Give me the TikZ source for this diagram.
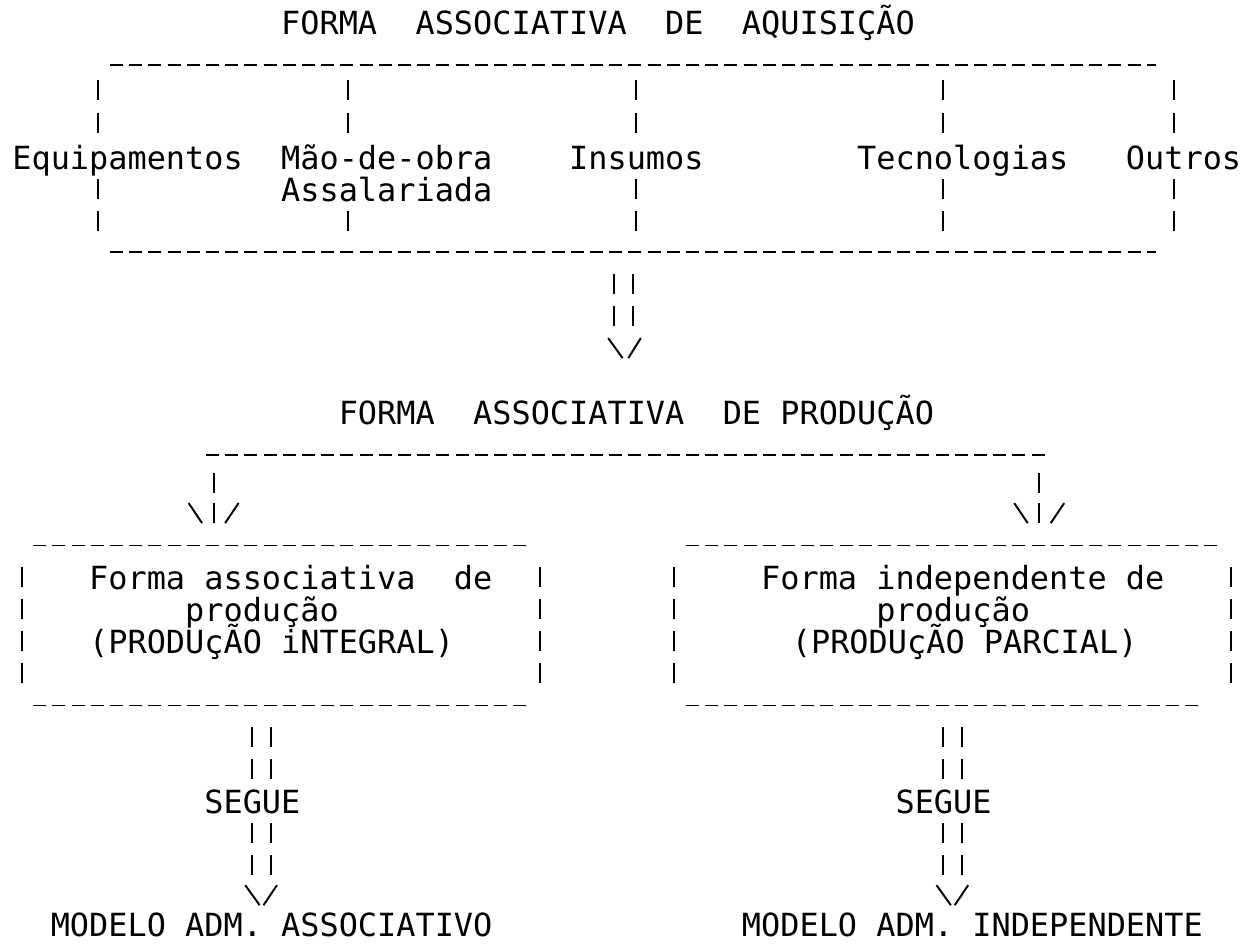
\documentclass[tikz,border=0pt]{standalone}
\usepackage{fontspec}
\newfontfamily\dotmatrix{DejaVu Sans Mono}
\usepackage{tikz}

\begin{document}
\begin{tikzpicture}[
	x=0.384cm, y=-0.02cm,
	word/.style = {
		anchor=base west, inner sep=0pt,
		font=\dotmatrix\fontsize{18.15}{20}\selectfont
	},
	rule/.style = {
		line width=0.7pt,
		dash pattern=on 0.26cm off 0.124cm
	},
	bar/.style = {
		line width=1.1pt
	}
]
	\useasboundingbox (-0.625, 0) rectangle (64.53, 944);
	% Acquisition
	\node[word] (aquis) at (14, 34) {FORMA\ \ ASSOCIATIVA\ \ DE\ \ AQUISIÇÃO};
	\draw[rule] (5.1, 65) -- (59.6, 65);
	\foreach \c in {4,17,32,48,60} {
		\foreach \r in {90,123,221} {
			\draw[bar] (\c+0.5, \r-10) -- ++(0, 20);
		}
	}
	\foreach \c in {4,32,48,60} {
		\draw[bar] (\c+0.5, 179) -- ++(0, 20);
	}
	\node[word] (equip) at (0, 169) {Equipamentos};
	\node[word] (maoobra) at (14, 169) {Mão-de-obra};
	\node[word] (assal) at (14, 201) {Assalariada};
	\node[word] (insumos) at (29, 169) {Insumos};
	\node[word] (tecno) at (44, 169) {Tecnologias};
	\node[word] (outros) at (58, 169) {Outros};
	\draw[rule] (5.1, 252) -- (59.6, 252);
	% Down to production
	\foreach \r in {284,316} {
		\draw[bar] (31.35, \r-10) -- ++(0, 20);
		\draw[bar] (32.35, \r-10) -- ++(0, 20);
	}
	\draw[bar] (31.05, 338) -- (31.8, 358);
	\draw[bar] (32.1, 358) -- (32.75, 338);
	% Production
	\node[word] (prod) at (17, 424) {FORMA\ \ ASSOCIATIVA\ \ DE PRODUÇÃO};
	\draw[rule] (10.1, 455) -- (54, 455);
	\foreach \s in {0,43} {
		\draw[bar] (10.5+\s, 473) -- ++(0, 20);
		\draw[bar] (9.2+\s, 503) -- (9.9+\s, 523);
		\draw[bar] (10.5+\s, 503) -- ++(0, 20);
		\draw[bar] (11.1+\s, 523) -- (11.8+\s, 503);
	}
	% Boxes
	\draw[rule] (1.1, 545) -- (26.9, 545);
	\draw[rule] (35.1, 545) -- (62.9, 545);
	\foreach \c in {0,27,34,63} {
		\foreach \r in {577,609,641,673} {
			\draw[bar] (\c+0.5, \r-10) -- ++(0, 20);
		}
	}
	\node[word] (integ1) at (4, 589) {Forma associativa\ \ de};
	\node[word] (integ2) at (9, 621) {produção};
	\node[word] (integ3) at (4, 653) {(PRODUçÃO iNTEGRAL)};
	\node[word] (parc1) at (39, 589) {Forma independente de};
	\node[word] (parc2) at (45, 621) {produção};
	\node[word] (parc3) at (40.6, 653) {(PRODUçÃO PARCIAL)};
	\draw[rule] (1.1, 705) -- (26.9, 705);
	\draw[rule] (35.1, 705) -- (62, 705);
	% Follows
	\foreach \s in {0,36} {
		\foreach \r in {737,769,833,865} {
			\draw[bar] (12.5+\s, \r-10) -- ++(0, 20);
			\draw[bar] (13.5+\s, \r-10) -- ++(0, 20);
		}
		\draw[bar] (12.15+\s, 885) -- (12.9+\s, 905);
		\draw[bar] (13.1+\s, 905) -- (13.8+\s, 885);
	}
	\node[word] (segue1) at (10, 813) {SEGUE};
	\node[word] (segue2) at (46, 813) {SEGUE};
	\node[word] (assoc) at (2, 936) {MODELO ADM. ASSOCIATIVO};
	\node[word] (indep) at (38, 936) {MODELO ADM. INDEPENDENTE};
\end{tikzpicture}
\end{document}
